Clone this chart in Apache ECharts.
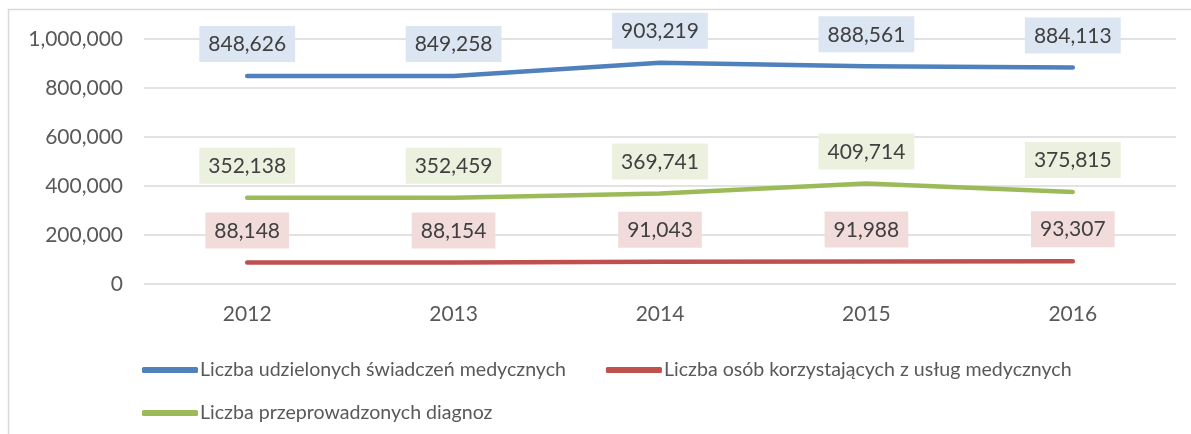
<!DOCTYPE html>
<html>
<head>
<meta charset="utf-8">
<script src="https://cdn.jsdelivr.net/npm/echarts@6/dist/echarts.min.js"></script>
<style>
  html, body { margin: 0; padding: 0; background: #fff; }
  #chart { width: 1191px; height: 434px; }
</style>
</head>
<body>
<div id="chart"></div>
<script>
var years = ['2012', '2013', '2014', '2015', '2016'];
var swiadczenia = [848626, 849258, 903219, 888561, 884113];
var osoby = [88148, 88154, 91043, 91988, 93307];
var diagnozy = [352138, 352459, 369741, 409714, 375815];

var names = [
    'Liczba udzielonych świadczeń medycznych',
    'Liczba osób korzystających z usług medycznych',
    'Liczba przeprowadzonych diagnoz'
];

var FONT = 'Lato';

function fmt(v) {
    return String(v).replace(/\B(?=(\d{3})+(?!\d))/g, ',');
}

function makeSeries(name, data, color, bg) {
    return {
        name: name,
        type: 'line',
        data: data,
        symbol: 'circle',
        symbolSize: 2,
        showSymbol: true,
        lineStyle: { color: color, width: 4.5, cap: 'round', join: 'round' },
        itemStyle: { color: color },
        label: {
            show: true,
            position: 'top',
            distance: 13,
            formatter: function (p) { return fmt(p.value); },
            fontFamily: FONT,
            fontSize: 21,
            color: '#404040',
            backgroundColor: bg,
            padding: [8, 9, 7, 9]
        },
        z: 3
    };
}

var legendText = { fontFamily: FONT, fontSize: 19.6, color: '#595959', padding: [0, 0, 0, -3] };

var myChart = echarts.init(document.getElementById('chart'));
var option = {
    animation: false,
    graphic: [{
        type: 'rect',
        shape: { x: 8.5, y: 9.5, width: 1200, height: 440 },
        style: { fill: 'none', stroke: '#d9d9d9', lineWidth: 1.5 },
        silent: true
    }],
    grid: { left: 144, right: 15, top: 39, bottom: 150 },
    legend: [{
        data: [names[0], names[1]],
        left: 137,
        top: 355,
        itemWidth: 56,
        itemHeight: 6,
        itemGap: 40,
        icon: 'roundRect',
        textStyle: legendText
    }, {
        data: [names[2]],
        left: 137,
        top: 398,
        itemWidth: 56,
        itemHeight: 6,
        icon: 'roundRect',
        textStyle: legendText
    }],
    xAxis: {
        type: 'category',
        data: years,
        boundaryGap: true,
        axisLine: { show: false },
        axisTick: { show: false },
        axisLabel: { fontFamily: FONT, fontSize: 21, color: '#595959', margin: 20 }
    },
    yAxis: {
        type: 'value',
        min: 0,
        max: 1000000,
        interval: 200000,
        axisLine: { show: false },
        axisTick: { show: false },
        splitLine: { lineStyle: { color: '#d9d9d9', width: 1.5 } },
        axisLabel: {
            fontFamily: FONT,
            fontSize: 21,
            color: '#595959',
            margin: 21,
            formatter: function (v) { return fmt(v); }
        }
    },
    series: [
        makeSeries(names[0], swiadczenia, '#4f81bd', '#dce6f2'),
        makeSeries(names[1], osoby, '#c0504d', '#f2dcdb'),
        makeSeries(names[2], diagnozy, '#9bbb59', '#ebf1de')
    ]
};
myChart.setOption(option);
</script>
</body>
</html>
